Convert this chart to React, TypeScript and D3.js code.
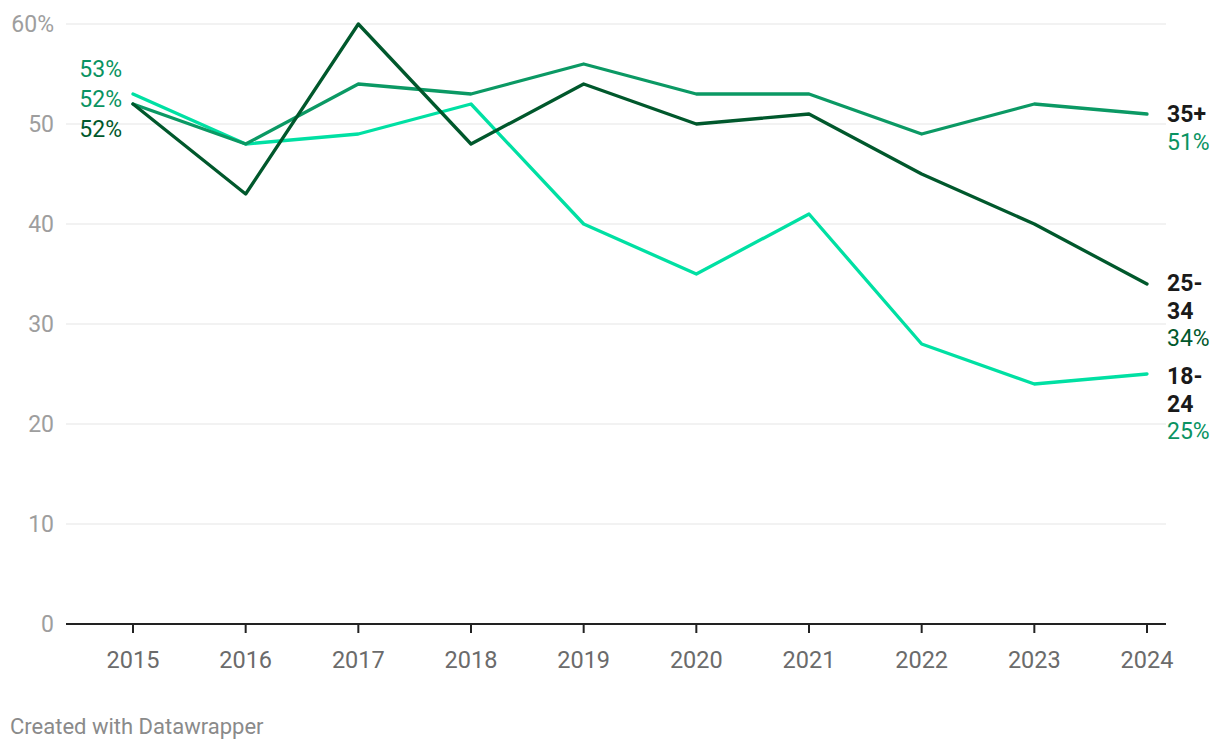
import React from "react";
import * as d3 from "d3";

const years = [2015, 2016, 2017, 2018, 2019, 2020, 2021, 2022, 2023, 2024];
const age1824 = [53, 48, 49, 52, 40, 35, 41, 28, 24, 25];
const age2534 = [52, 43, 60, 48, 54, 50, 51, 45, 40, 34];
const age35 = [52, 48, 54, 53, 56, 53, 53, 49, 52, 51];
const yTicks = [0, 10, 20, 30, 40, 50, 60];

const series = [
  { name: ["18-", "24"], values: age1824, color: "#00e0a3", labelColor: "#0a9362", startDy: -27, endDy: 10 },
  { name: ["35+"], values: age35, color: "#0b9964", labelColor: "#0a9362", startDy: 3, endDy: 8 },
  { name: ["25-", "34"], values: age2534, color: "#00582c", labelColor: "#00582c", startDy: 33, endDy: 7 },
];

export default function App() {
  const W = 1220, H = 750;
  const x = d3.scalePoint<number>().domain(years).range([133, 1147]);
  const y = d3.scaleLinear().domain([0, 60]).range([624, 24]);
  const line = d3
    .line<number>()
    .x((_, i) => x(years[i])!)
    .y((v) => y(v));
  const font = "Roboto, sans-serif";
  return (
    <svg width={W} height={H} style={{ position: "absolute", left: 0, top: 0 }} fontFamily={font}>
      {yTicks.map((t) => (
        <g key={t}>
          {t > 0 && <line x1={66} x2={1166} y1={y(t)} y2={y(t)} stroke="#e5e5e5" strokeWidth={1} />}
          <text x={54} y={y(t) + 8} textAnchor="end" fill="#9e9e9e" fontSize={23}>
            {t === 60 ? "60%" : t}
          </text>
        </g>
      ))}
      <line x1={66} x2={1166} y1={y(0)} y2={y(0)} stroke="#222" strokeWidth={2} />
      {years.map((yr) => (
        <g key={yr}>
          <line x1={x(yr)} x2={x(yr)} y1={y(0)} y2={y(0) + 9} stroke="#222" strokeWidth={2} />
          <text x={x(yr)} y={668} textAnchor="middle" fill="#6b6b6b" fontSize={23.5}>
            {yr}
          </text>
        </g>
      ))}
      {series.map((s) => (
        <path key={s.name.join("")} d={line(s.values)!} fill="none" stroke={s.color} strokeWidth={3.3} strokeLinejoin="round" strokeLinecap="round" />
      ))}
      {series.map((s) => (
        <text key={"st" + s.name.join("")} x={122} y={y(52) + s.startDy} textAnchor="end" fill={s.labelColor} fontSize={23}>
          {s.values[0]}%
        </text>
      ))}
      {series.map((s) => {
        const yEnd = y(s.values[s.values.length - 1]) + s.endDy;
        return (
          <g key={"end" + s.name.join("")}>
            {s.name.map((n, i) => (
              <text key={n} x={1167} y={yEnd + i * 27.5} fill="#1a1a1a" fontSize={23} fontWeight="bold">
                {n}
              </text>
            ))}
            <text x={1167} y={yEnd + s.name.length * 27.5} fill={s.labelColor} fontSize={23}>
              {s.values[s.values.length - 1]}%
            </text>
          </g>
        );
      })}
      <text x={10} y={734} fill="#8a8a8a" fontSize={22}>
        Created with Datawrapper
      </text>
    </svg>
  );
}
